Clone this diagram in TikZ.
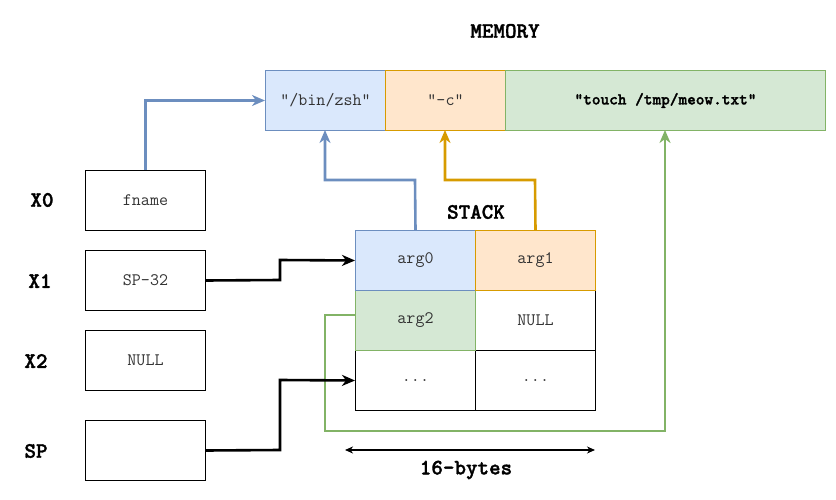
\documentclass[tikz,border=0pt]{standalone}
\usepackage{fontspec}
\newfontfamily\boldmono{lmmonolt10-bold.otf}[FakeBold=1.6]
\usetikzlibrary{arrows.meta}
\definecolor{bfill}{HTML}{DAE8FC}\definecolor{bline}{HTML}{6C8EBF}
\definecolor{ofill}{HTML}{FFE6CC}\definecolor{oline}{HTML}{D79B00}
\definecolor{gfill}{HTML}{D5E8D4}\definecolor{gline}{HTML}{82B366}
\definecolor{txt}{HTML}{333333}
\tikzset{
  cell/.style={draw, line width=1pt, minimum width=120pt, minimum height=60pt, inner sep=0pt, font=\ttfamily\fontsize{17.5}{20}\selectfont, text=txt},
  lbl/.style={font=\boldmono\fontsize{22}{25}\selectfont},
  conn/.style={line width=2.6pt, -{Stealth[length=13pt,width=11pt,inset=4pt]}},
}
\begin{document}
\begin{tikzpicture}[x=1pt,y=-1pt]
\useasboundingbox (0,0) rectangle (836,500);
% memory
\node[lbl] (mem) at (505,31) {MEMORY};
\node[cell, fill=bfill, draw=bline, anchor=north west] (m0) at (265,70) {"/bin/zsh"};
\node[cell, fill=ofill, draw=oline, anchor=north west] (m1) at (385,70) {"-c"};
\node[cell, fill=gfill, draw=gline, anchor=north west, minimum width=320pt, text=black, font=\boldmono\fontsize{16.5}{18}\selectfont] (m2) at (505,70) {"touch /tmp/meow.txt"};
% registers
\node[cell, anchor=north west] (r0) at (85,170) {fname};
\node[cell, anchor=north west] (r1) at (85,250) {SP-32};
\node[cell, anchor=north west] (r2) at (85,330) {NULL};
\node[cell, anchor=north west] (rs) at (85,420) {};
\node[lbl] (l0) at (42,200) {X0};
\node[lbl] (l1) at (40,281) {X1};
\node[lbl] (l2) at (36,361) {X2};
\node[lbl] (ls) at (36,451) {SP};
% stack
\node[lbl] (stk) at (476,212) {STACK};
\node[cell, anchor=north west] (s11) at (475,290) {NULL};
\node[cell, anchor=north west] (s20) at (355,350) {...};
\node[cell, anchor=north west] (s21) at (475,350) {...};
\node[cell, fill=gfill, draw=gline, anchor=north west] (s10) at (355,290) {arg2};
\node[cell, fill=bfill, draw=bline, anchor=north west] (s00) at (355,230) {arg0};
\node[cell, fill=ofill, draw=oline, anchor=north west] (s01) at (475,230) {arg1};
% connectors
\draw[conn, bline] (r0.north) |- (m0.west);
\draw[conn, bline] (s00.north) -- (415,180) -- (325,180) -- (325,130);
\draw[conn, oline] (s01.north) -- (535,180) -- (445,180) -- (445,130);
\coordinate (g0) at (355,315);
\draw[conn, gline] (g0) -- (325,315) -- (325,431) -- (665,431) -- (665,130);
\draw[conn, black] (r1.east) -- (280,280) -- (280,260) -- (s00.west);
\draw[conn, black] (rs.east) -- (280,450) -- (280,380) -- (s20.west);
% 16 bytes
\coordinate (b0) at (345,450); \coordinate (b1) at (595,450);
\draw[line width=1.2pt, {Stealth[length=8pt,width=7pt,inset=2.5pt]}-{Stealth[length=8pt,width=7pt,inset=2.5pt]}] (b0) -- (b1);
\node[lbl] (bytes) at (466,470) {16-bytes};
\end{tikzpicture}
\end{document}
